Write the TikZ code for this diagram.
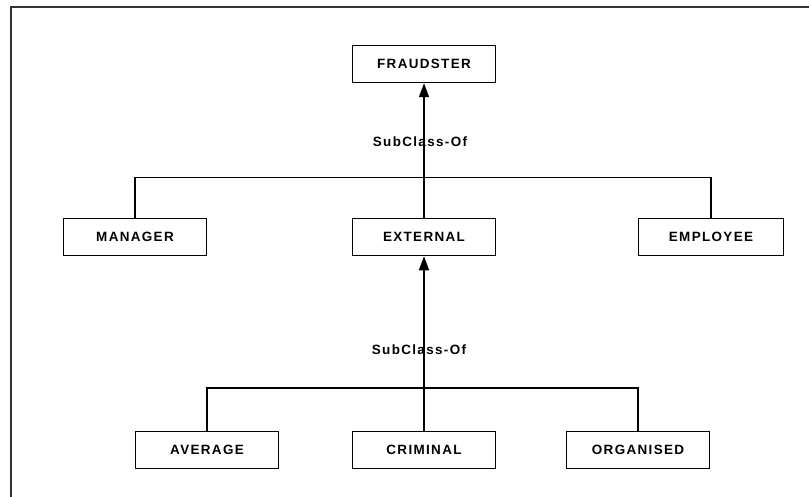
\documentclass[tikz,border=0pt]{standalone}
\usepackage{fontspec}
\setmainfont{Liberation Sans}[LetterSpace=10]
\usetikzlibrary{arrows.meta}
\begin{document}
\begin{tikzpicture}[x=1bp,y=-1bp,
  classbox/.style={draw=black, line width=1.5bp, minimum width=143bp, minimum height=37bp,
    inner sep=0pt, font=\fontsize{13.5}{15}\selectfont\bfseries, text=black},
  relabel/.style={font=\fontsize{13.5}{15}\selectfont\bfseries, text=black, inner sep=0pt},
  link/.style={line width=1.5bp},
  isa/.style={link, -{Triangle[width=10bp,length=14bp]}}]
  \useasboundingbox (0,0) rectangle (809,497);
  % outer frame (top and left edges only)
  \draw[line width=2.2bp, black!80] (11,497) -- (11,7) -- (809,7);

  % class boxes
  \node[classbox] (fraud)     at (424,64)  {FRAUDSTER};
  \node[classbox] (manager)   at (135,237) {MANAGER};
  \node[classbox] (external)  at (424,237) {EXTERNAL};
  \node[classbox, minimum width=145bp] (employee) at (711,237) {EMPLOYEE};
  \node[classbox] (average)   at (207,450) {AVERAGE};
  \node[classbox] (criminal)  at (424,450) {CRIMINAL};
  \node[classbox] (organised) at (638,450) {ORGANISED};

  % first level of the hierarchy
  \draw[isa] (external.north) -- (fraud.south);
  \draw[link] (manager.north) -- ++(0,-40) -| (employee.north);
  \node[relabel] (lab1) at (420,142) {SubClass-Of};

  % second level of the hierarchy
  \draw[isa] (criminal.north) -- (external.south);
  \draw[link] (average.north) -- ++(0,-43) -| (organised.north);
  \node[relabel] (lab2) at (419,350) {SubClass-Of};
\end{tikzpicture}
\end{document}
